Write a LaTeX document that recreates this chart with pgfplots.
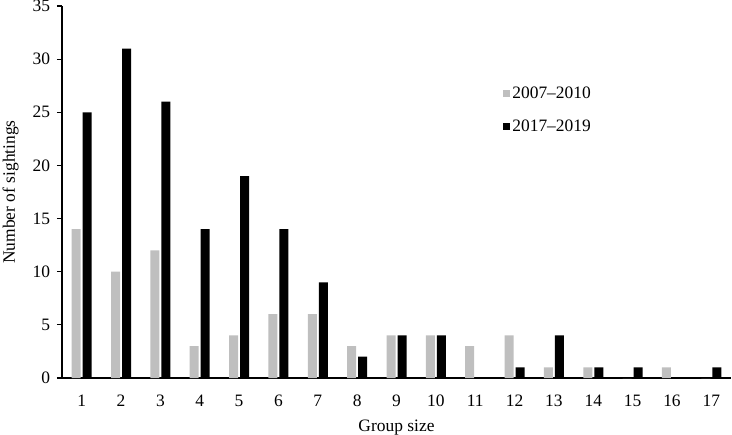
\documentclass[border=0pt]{standalone}
\usepackage{fontspec}
\setmainfont{Liberation Serif}
\usepackage{pgfplots}
\pgfplotsset{compat=1.18}
\definecolor{barlight}{HTML}{BFBFBF}

\begin{document}
\fontsize{17.5}{20}\selectfont
\begin{tikzpicture}
\begin{axis}[
  scale only axis,
  width=669bp, height=372bp,
  ybar=2bp, bar width=9bp,
  xmin=0.5, xmax=17.5,
  ymin=0, ymax=35,
  xtick={1,...,17},
  ytick={0,5,...,35},
  axis x line*=bottom, axis y line*=left,
  axis line style={line width=1.3pt, -},
  xtick style={draw=none},
  ytick style={line width=1.1pt, black},
  tick align=outside,
  major tick length=5bp,
  tick label style={font=\fontsize{17.5}{20}\selectfont},
  /pgf/number format/assume math mode=true,
  xticklabel style={yshift=-6bp},
  yticklabel style={xshift=-1bp},
  xlabel={Group size},
  ylabel={Number of sightings},
  label style={font=\fontsize{17.5}{20}\selectfont},
  xlabel style={yshift=-1bp},
  ylabel style={yshift=2bp},
  legend style={at={(0.655,0.795)}, anchor=north west, draw=none, fill=none,
                font=\fontsize{17.5}{20}\selectfont,
                row sep=15bp, cells={anchor=west}},
  legend image code/.code={\fill[#1] (0bp,-3.5bp) rectangle (7bp,3.5bp);},
]
\addplot[fill=barlight, draw=none] coordinates {
  (1,14)(2,10)(3,12)(4,3)(5,4)(6,6)(7,6)(8,3)(9,4)
  (10,4)(11,3)(12,4)(13,1)(14,1)(15,0)(16,1)(17,0)};
\addlegendentry{2007–2010}
\addplot[fill=black, draw=none] coordinates {
  (1,25)(2,31)(3,26)(4,14)(5,19)(6,14)(7,9)(8,2)(9,4)
  (10,4)(11,0)(12,1)(13,4)(14,1)(15,1)(16,0)(17,1)};
\addlegendentry{2017–2019}
\end{axis}
\pgfresetboundingbox
\path[use as bounding box] (-62bp,-57bp) rectangle (670bp,378bp);
\end{tikzpicture}
\end{document}
